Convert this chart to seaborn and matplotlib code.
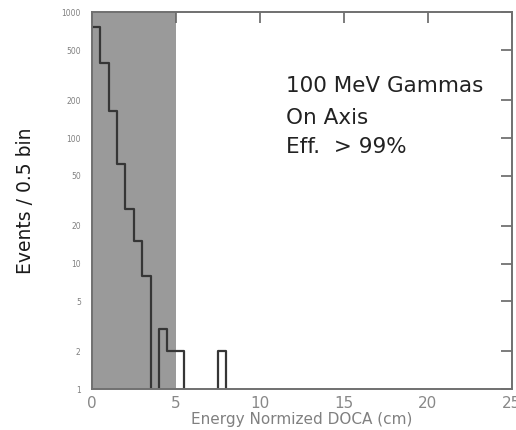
import matplotlib
matplotlib.use("Agg")
import matplotlib.pyplot as plt
import seaborn as sns
import numpy as np

# histogram data (bin centres, 0.5 cm bins)
doca_centers = [0.25, 0.75, 1.25, 1.75, 2.25, 2.75, 3.25, 3.75, 4.25, 4.75,
                5.25, 5.75, 6.25, 6.75, 7.25, 7.75, 8.25]
events = [770, 395, 164, 62, 27, 15, 8, 0, 3, 2, 2, 0, 0, 0, 0, 2, 0]
bin_edges = list(np.arange(0, 9.0, 0.5))

cut_value = 5.0
x_ticks = [0, 5, 10, 15, 20, 25]
y_ticks = [1, 2, 5, 10, 20, 50, 100, 200, 500, 1000]
y_ticklabels = ["1", "2", "5", "10", "20", "50", "100", "200", "500", "1000"]
notes = ["100 MeV Gammas", "On Axis", "Eff.  > 99%"]
note_y = [0.79, 0.703, 0.627]

sns.set_style("white")
plt.rcParams["font.family"] = ["DejaVu Sans"]

fig = plt.figure(figsize=(5.16, 4.30), dpi=100)
ax = fig.add_axes([0.178, 0.095, 0.814, 0.876])

ax.axvspan(0, cut_value, color="#9a9a9a", zorder=0, lw=0)

sns.histplot(x=doca_centers, weights=events, bins=bin_edges, element="step",
             fill=False, color="#363636", linewidth=1.6, ax=ax)
ax.set_yscale("log")

ax.set_xlim(0, 25)
ax.set_ylim(1, 1000)
ax.set_xticks(x_ticks)
ax.set_yticks(y_ticks)
ax.set_yticklabels(y_ticklabels)
ax.minorticks_off()

ax.tick_params(axis="x", direction="in", top=True, length=8, width=1.2,
               colors="#666666", labelsize=11, labelcolor="#888888", pad=5)
ax.tick_params(axis="y", direction="in", right=True, length=8, width=1.2,
               colors="#666666", labelsize=5.5, labelcolor="#808080", pad=8)
for s in ax.spines.values():
    s.set_color("#707070")
    s.set_linewidth(1.4)

ax.set_xlabel("Energy Normized DOCA (cm)", fontsize=11, color="#808080",
              labelpad=1)
ax.set_ylabel("Events / 0.5 bin", fontsize=13.5, color="#1a1a1a", labelpad=19)

for t, yy in zip(notes, note_y):
    ax.text(0.463, yy, t, transform=ax.transAxes, fontsize=15.5,
            color="#222222", va="baseline", ha="left")

fig.savefig("out.png", dpi=100)
